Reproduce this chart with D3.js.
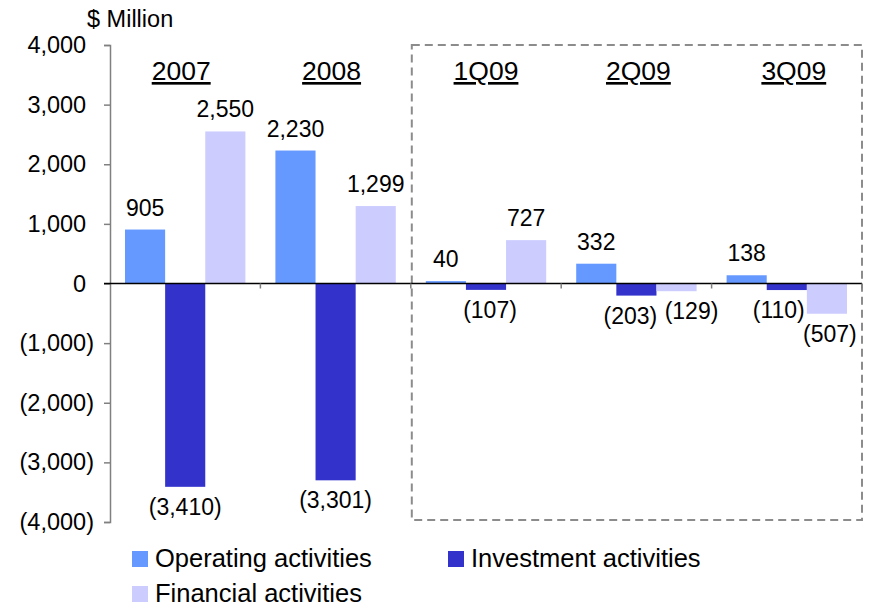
<!DOCTYPE html>
<html>
<head>
<meta charset="utf-8">
<script src="https://cdn.jsdelivr.net/npm/d3@7"></script>
<style>
  body { margin: 0; background: #fff; }
  svg { font-family: "Liberation Sans", Arial, sans-serif; }
</style>
</head>
<body>
<div id="chart"></div>
<script>
const categories = ['2007', '2008', '1Q09', '2Q09', '3Q09'];
const seriesNames = ['Operating activities', 'Investment activities', 'Financial activities'];
const operating = [905, 2230, 40, 332, 138];
const investment = [-3410, -3301, -107, -203, -110];
const financial = [2550, 1299, 727, -129, -507];
const yTicks = [4000, 3000, 2000, 1000, 0, -1000, -2000, -3000, -4000];
const colors = ['#6699ff', '#3333cc', '#ccccff'];

// small sideways nudges so the negative labels don't collide
const labelShift = {
  '1Q09': [0, 4, 0],
  '2Q09': [0, -6, 15],
  '3Q09': [0, -8, 3]
};
const headerShift = [-4, -4, 0, 2, 7];

const width = 870, height = 606;
const svg = d3.select('#chart').append('svg')
  .attr('width', width)
  .attr('height', height);

const xScale = d3.scaleBand().domain(categories).range([110, 862]);
const bw = xScale.bandwidth();
const xInner = d3.scaleBand().domain(seriesNames).range([15, bw - 15]);
const yScale = d3.scaleLinear().domain([-4000, 4000]).range([522, 45]);

const fmt = v => {
  const s = d3.format(',')(Math.abs(v));
  return v < 0 ? '(' + s + ')' : s;
};

// dashed box around the quarters
svg.append('rect')
  .attr('x', xScale('1Q09') + 1)
  .attr('y', yScale(4000))
  .attr('width', xScale.range()[1] - xScale('1Q09') - 1)
  .attr('height', yScale(-4000) - yScale(4000) - 2)
  .attr('fill', 'none')
  .attr('stroke', '#8c8c8c')
  .attr('stroke-width', 2)
  .attr('stroke-dasharray', '8,5');

// y axis
const yAxis = d3.axisLeft(yScale)
  .tickValues(yTicks)
  .tickSize(6)
  .tickPadding(10)
  .tickFormat(fmt);

const gy = svg.append('g')
  .attr('transform', 'translate(110,0)')
  .call(yAxis);
gy.select('.domain').attr('stroke', '#808080').attr('stroke-width', 1.5);
gy.selectAll('.tick line').attr('stroke', '#808080').attr('stroke-width', 1.5);
gy.selectAll('.tick text')
  .attr('fill', '#000')
  .attr('dx', d => d >= 0 ? '-0.333em' : 0)   // accounting style: digits line up
  .style('font-size', '23.5px')
  .style('font-family', '"Liberation Sans", Arial, sans-serif');

svg.append('text')
  .attr('x', 87)
  .attr('y', 27)
  .style('font-size', '23.5px')
  .text('$ Million');

// bars
const rows = [];
categories.forEach((c, i) => {
  [operating[i], investment[i], financial[i]].forEach((v, j) => {
    rows.push({ cat: c, series: seriesNames[j], idx: j, value: v });
  });
});

svg.append('g').selectAll('rect')
  .data(rows)
  .enter()
  .append('rect')
  .attr('x', d => xScale(d.cat) + xInner(d.series))
  .attr('y', d => yScale(Math.max(0, d.value)))
  .attr('width', xInner.bandwidth())
  .attr('height', d => Math.abs(yScale(d.value) - yScale(0)))
  .attr('fill', d => colors[d.idx]);

// zero line and category ticks
svg.append('line')
  .attr('x1', 104).attr('x2', xScale.range()[1])
  .attr('y1', yScale(0)).attr('y2', yScale(0))
  .attr('stroke', '#000').attr('stroke-width', 1.5);

svg.append('g').selectAll('line')
  .data(categories.slice(1).map(c => xScale(c)).concat([xScale.range()[1]]))
  .enter()
  .append('line')
  .attr('x1', d => d).attr('x2', d => d)
  .attr('y1', yScale(0)).attr('y2', yScale(0) + 5)
  .attr('stroke', '#808080').attr('stroke-width', 1.5);

// value labels
svg.append('g').selectAll('text')
  .data(rows)
  .enter()
  .append('text')
  .attr('x', d => xScale(d.cat) + xInner(d.series) + xInner.bandwidth() / 2
    + ((labelShift[d.cat] || [0, 0, 0])[d.idx]))
  .attr('y', d => d.value >= 0 ? yScale(d.value) - 14 : yScale(d.value) + 28)
  .attr('text-anchor', 'middle')
  .style('font-size', '23px')
  .text(d => fmt(d.value));

// period headers
svg.append('g').selectAll('text')
  .data(categories)
  .enter()
  .append('text')
  .attr('x', (d, i) => xScale(d) + bw / 2 + headerShift[i])
  .attr('y', 80)
  .attr('text-anchor', 'middle')
  .style('font-size', '26.5px')
  .style('text-decoration', 'underline')
  .text(d => d);

// legend
const legendPos = [[132, 551], [448, 551], [132, 586]];
const legend = svg.append('g').selectAll('g')
  .data(seriesNames)
  .enter()
  .append('g')
  .attr('transform', (d, i) => `translate(${legendPos[i][0]},${legendPos[i][1]})`);

legend.append('rect')
  .attr('width', 16).attr('height', 16)
  .attr('fill', (d, i) => colors[i]);

legend.append('text')
  .attr('x', 23)
  .attr('y', 16)
  .style('font-size', '25.5px')
  .text(d => d);
</script>
</body>
</html>
